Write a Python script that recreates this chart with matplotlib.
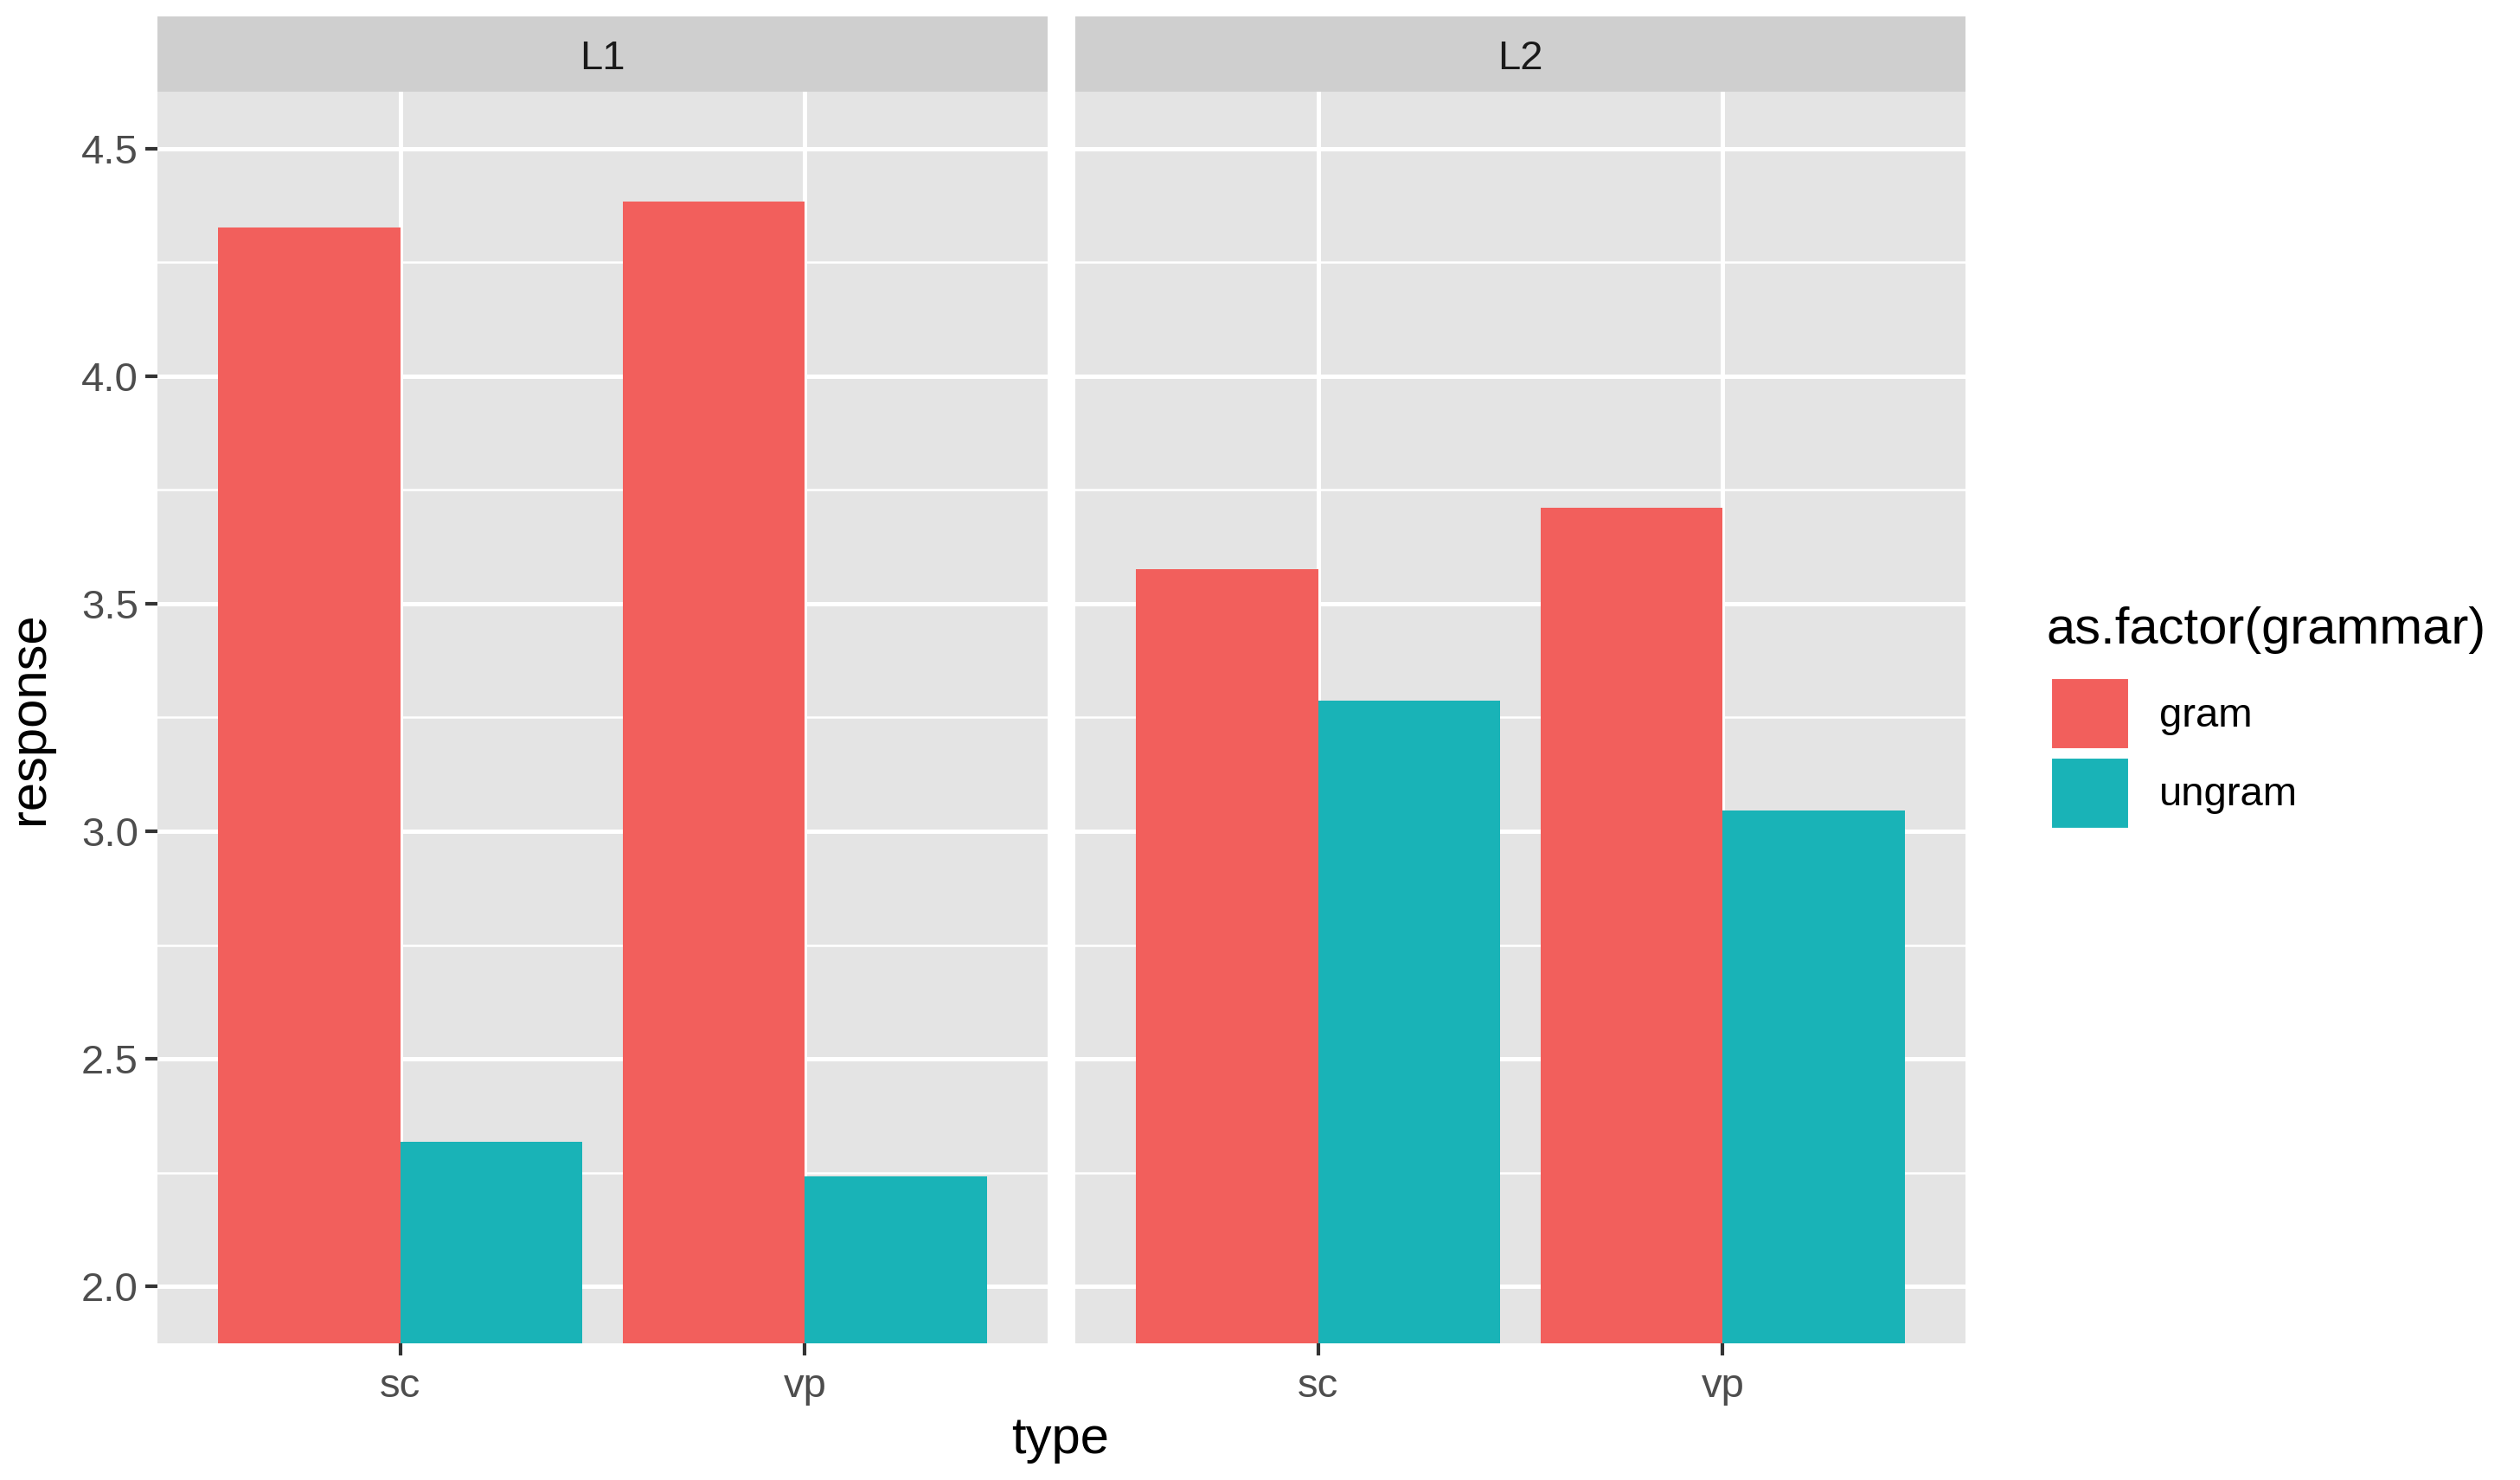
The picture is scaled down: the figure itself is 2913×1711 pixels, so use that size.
import matplotlib
matplotlib.use("Agg")
import matplotlib.pyplot as plt
from matplotlib.patches import Patch

# data
panels = ["L1", "L2"]
types = ["sc", "vp"]
gram = {"L1": [4.327, 4.383], "L2": [3.575, 3.710]}
ungram = {"L1": [2.317, 2.241], "L2": [3.287, 3.046]}
groups = ["gram", "ungram"]
colors = ["#F25F5C", "#19B3B7"]
yticks = [2.0, 2.5, 3.0, 3.5, 4.0, 4.5]

plt.rcParams["font.family"] = ["Liberation Sans", "DejaVu Sans"]

W, H = 2913, 1711
fig = plt.figure(figsize=(W / 100, H / 100), dpi=100)

panel_bg = "#E4E4E4"
strip_bg = "#CFCFCF"
tick_fs = 34
title_fs = 43

lefts = [182, 1243]
pw = 1029
top, bottom = 106, 1553
strip_top = 19

for i, p in enumerate(panels):
    ax = fig.add_axes([lefts[i] / W, (H - bottom) / H, pw / W, (bottom - top) / H])
    ax.set_facecolor(panel_bg)
    x = [1, 2]
    ax.bar([v - 0.225 for v in x], gram[p], width=0.45, color=colors[0], zorder=3)
    ax.bar([v + 0.225 for v in x], ungram[p], width=0.45, color=colors[1], zorder=3)
    ax.set_xlim(0.4, 2.6)
    ax.set_ylim(1.875, 4.625)
    ax.set_xticks(x)
    ax.set_xticklabels(types)
    ax.set_yticks(yticks)
    ax.set_yticks([2.25, 2.75, 3.25, 3.75, 4.25], minor=True)
    ax.grid(which="major", color="white", linewidth=3.6, zorder=0)
    ax.grid(which="minor", axis="y", color="white", linewidth=1.8, zorder=0)
    ax.set_axisbelow(True)
    for s in ax.spines.values():
        s.set_visible(False)
    ax.tick_params(which="major", length=10, width=3, color="#333333",
                   labelsize=tick_fs, labelcolor="#4D4D4D")
    ax.tick_params(axis="x", pad=10)
    ax.tick_params(axis="y", pad=6)
    ax.tick_params(which="minor", length=0)
    if i == 0:
        ax.set_yticklabels([f"{v:.1f}" for v in yticks])
    else:
        ax.tick_params(axis="y", left=False, labelleft=False)

    # facet strip
    sax = fig.add_axes([lefts[i] / W, (H - top) / H, pw / W, (top - strip_top) / H])
    sax.set_facecolor(strip_bg)
    sax.set_xticks([])
    sax.set_yticks([])
    for s in sax.spines.values():
        s.set_visible(False)
    sax.text(0.5, 0.44, p, ha="center", va="center", fontsize=tick_fs,
             color="#1A1A1A", transform=sax.transAxes)

fig.text(1226 / W, 1 - 1665 / H, "type", ha="center", va="center", fontsize=title_fs)
fig.text(34 / W, 1 - 830 / H, "response", ha="center", va="center",
         rotation=90, fontsize=title_fs)

# legend
fig.text(2365 / W, 1 - 728 / H, "as.factor(grammar)", ha="left", va="center",
         fontsize=title_fs)
handles = [Patch(facecolor=c, edgecolor="white", linewidth=1.5) for c in colors]
leg = fig.legend(handles, groups,
                 loc="upper left", bbox_to_anchor=(2371 / W, 1 - 784 / H),
                 frameon=False, fontsize=tick_fs,
                 handlelength=1.9, handleheight=2.3, labelspacing=0.2,
                 handletextpad=0.75, borderpad=0, borderaxespad=0)

fig.savefig("out.png", dpi=100)
